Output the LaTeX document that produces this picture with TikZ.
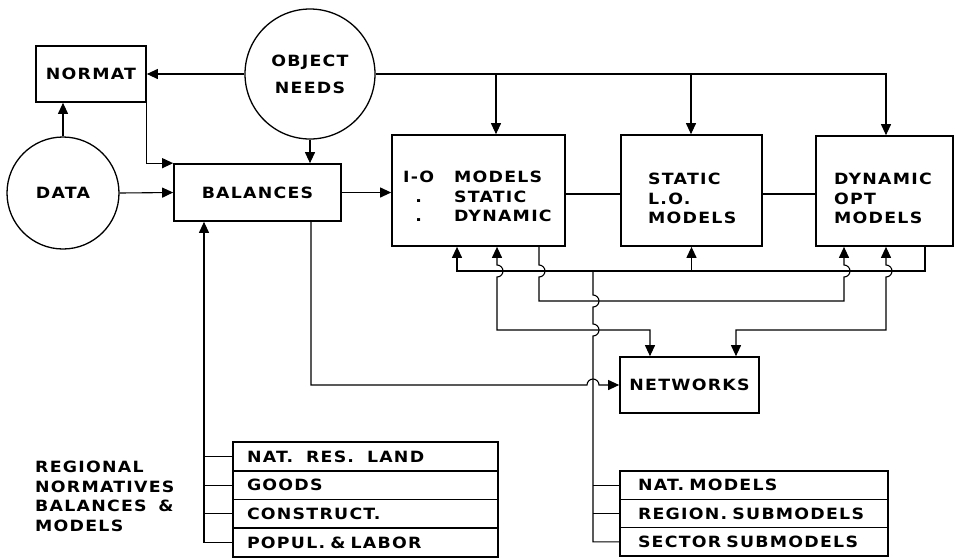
\documentclass[tikz,border=0pt]{standalone}
\usepackage{fontspec}
\setmainfont{DejaVu Sans}
\newfontfamily\lblfont{DejaVu Sans}[FakeStretch=1.12, LetterSpace=8, WordSpace=1.6]
\usetikzlibrary{arrows.meta}
\begin{document}
\begin{tikzpicture}[x=1pt,y=-1pt,
  every node/.style={font=\lblfont\bfseries\fontsize{15.5}{19.5}\selectfont, inner sep=0pt},
  box/.style={draw, line width=1.7pt, rectangle},
  disc/.style={draw, line width=1.3pt, circle},
  link/.style={line width=1.1pt},
  tip/.tip={Triangle[length=11pt,width=10pt]},
  arr/.style={link, -tip},
  arr2/.style={link, tip-tip},
  lrow/.style={draw, line width=1.5pt, minimum height=28.75pt, inner xsep=14pt, text width=237pt, align=left},
  rrow/.style={draw, line width=1.5pt, minimum height=28.33pt, inner xsep=18pt, text width=232pt, align=left},
  txt/.style={anchor=west, align=left}
]
\useasboundingbox (0,0) rectangle (956,558);

% main blocks
\node[box, minimum width=110pt, minimum height=56pt] (normat) at (91,74) {NORMAT};
\node[disc, minimum size=112pt] (data) at (63,193) {DATA};
\node[disc, minimum size=130pt, align=center, font=\lblfont\bfseries\fontsize{15.5}{27}\selectfont] (objneeds) at (310,74) {OBJECT\\NEEDS};
\node[box, minimum width=167pt, minimum height=57pt] (balances) at (257.5,192.5) {BALANCES};

\node[box, minimum width=173pt, minimum height=111pt] (io) at (478.5,190.5) {};
\node[txt] (iotext) at (403,198.5) {\begin{tabular}{@{}c@{\hspace{20pt}}l@{}}I-O & MODELS\\ . & STATIC\\ . & DYNAMIC\end{tabular}};
\node[box, minimum width=141pt, minimum height=111pt] (static) at (691.5,190.5) {};
\node[txt] (statictext) at (648,198.5) {STATIC\\L.O.\\MODELS};
\node[box, minimum width=137pt, minimum height=110pt] (dynopt) at (884.5,191) {};
\node[txt] (dyntext) at (834,198.5) {DYNAMIC\\OPT\\MODELS};

\node[box, minimum width=139pt, minimum height=56pt] (networks) at (689.5,385) {NETWORKS};

% regional block
\node[txt] (regional) at (35,496.5) {REGIONAL\\NORMATIVES\\BALANCES \&\\MODELS};
\node[lrow] (natres) at (365.5,456.4) {NAT.\hspace{0.5em} RES.\hspace{0.5em} LAND};
\node[lrow] (goods) at (365.5,485.1) {GOODS};
\node[lrow] (constr) at (365.5,513.9) {CONSTRUCT.};
\node[lrow] (popul) at (365.5,542.6) {POPUL. \& LABOR};

% submodel block
\node[rrow] (natmod) at (754,485.2) {NAT. MODELS};
\node[rrow] (regmod) at (754,513.5) {REGION. SUBMODELS};
\node[rrow] (secmod) at (754,541.8) {SECTOR SUBMODELS};

% junction points
\coordinate (feed) at (204,0);
\coordinate (busL) at (457,271);
\coordinate (busR) at (925,271);
\coordinate (trunk) at (593,271);
\coordinate (lvl) at (0,194);

% upper connectors
\draw[arr] (objneeds.west) -- (normat.east);
\draw[arr] (data.north) -- (data.north |- normat.south);
\draw[arr] (normat.south east) |- (balances.north west);
\draw[arr] (data.east) -- (balances.west);
\draw[arr] (objneeds.south) -- (objneeds.south |- balances.north);
\draw[arr] (balances.east) -- (io.west |- balances.east);
\draw[link] (io.east |- lvl) -- (static.west |- lvl);
\draw[link] (static.east |- lvl) -- (dynopt.west |- lvl);
\draw[arr] (objneeds.east) -- (886,74) -- (886,0 |- dynopt.north);
\draw[arr] (496,74) -- (496,0 |- io.north);
\draw[arr] (691,74) -- (691,0 |- static.north);

% model bus
\draw[arr] (busR |- dynopt.south) -- (busR) -- (busL) -- (busL |- io.south);
\draw[arr] (static.south |- busL) -- (static.south);
\draw[arr2] (497,0 |- io.south) -- (497,265) arc[start angle=-90, end angle=90, radius=6]
  -- (497,330) -- (650,330) -- (650,0 |- networks.north);
\draw[arr] (539,0 |- io.south) -- (539,265) arc[start angle=-90, end angle=90, radius=6]
  -- (539,301) -- (844,301) -- (844,277) arc[start angle=90, end angle=-90, radius=6]
  -- (844,0 |- dynopt.south);
\draw[arr2] (886,0 |- dynopt.south) -- (886,265) arc[start angle=-90, end angle=90, radius=6]
  -- (886,330) -- (736,330) -- (736,0 |- networks.north);

% trunk down to the submodels
\draw[link] (trunk) -- (593,295) arc[start angle=-90, end angle=90, radius=6]
  -- (593,324) arc[start angle=-90, end angle=90, radius=6]
  -- (593,0 |- secmod.west) -- (secmod.west);
\draw[link] (natmod.west) -- (natmod.west -| trunk);
\draw[link] (regmod.west) -- (regmod.west -| trunk);

% balances to networks
\draw[arr] (311,0 |- balances.south) -- (311,385) -- (587,385) arc[start angle=180, end angle=360, radius=6]
  -- (networks.west);

% regional feeds into balances
\draw[arr] (popul.west) -| (feed |- balances.south);
\draw[link] (natres.west) -- (natres.west -| feed);
\draw[link] (goods.west) -- (goods.west -| feed);
\draw[link] (constr.west) -- (constr.west -| feed);
\end{tikzpicture}
\end{document}
